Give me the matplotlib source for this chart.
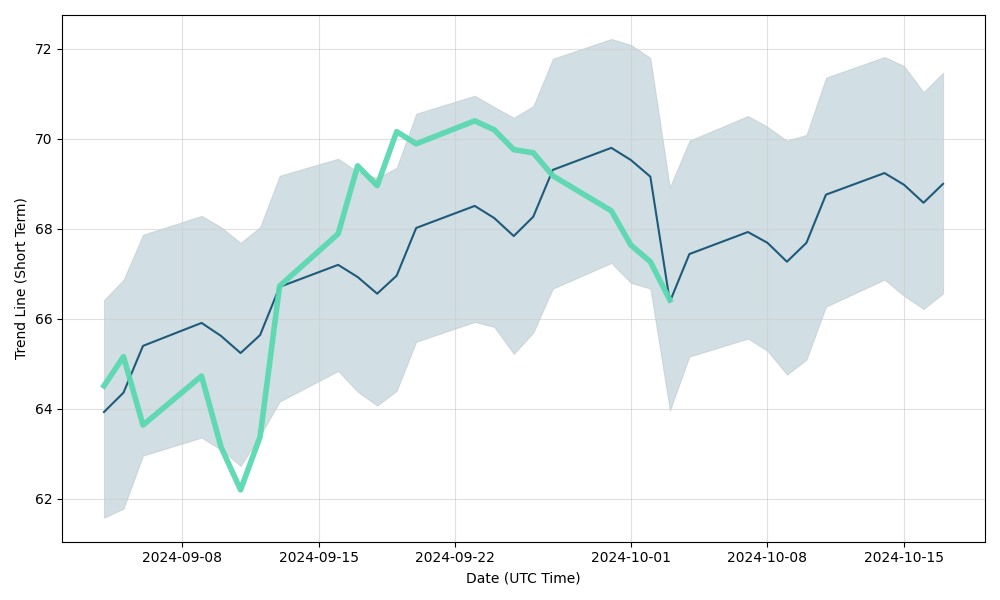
import numpy as np
import pandas as pd
import matplotlib
matplotlib.use("Agg")
import matplotlib.pyplot as plt

# trading days, Sep 4 - Oct 17 2024
dates = pd.to_datetime([
    "2024-09-04", "2024-09-05", "2024-09-06",
    "2024-09-09", "2024-09-10", "2024-09-11", "2024-09-12", "2024-09-13",
    "2024-09-16", "2024-09-17", "2024-09-18", "2024-09-19", "2024-09-20",
    "2024-09-23", "2024-09-24", "2024-09-25", "2024-09-26", "2024-09-27",
    "2024-09-30", "2024-10-01", "2024-10-02", "2024-10-03", "2024-10-04",
    "2024-10-07", "2024-10-08", "2024-10-09", "2024-10-10", "2024-10-11",
    "2024-10-14", "2024-10-15", "2024-10-16", "2024-10-17",
])

# short term trend line
trend = [63.93, 64.36, 65.40,
         65.91, 65.62, 65.24, 65.64, 66.71,
         67.20, 66.93, 66.56, 66.96, 68.02,
         68.51, 68.24, 67.84, 68.27, 69.31,
         69.80, 69.53, 69.16, 66.38, 67.44,
         67.93, 67.69, 67.27, 67.69, 68.76,
         69.24, 68.98, 68.58, 69.00]

upper = [66.42, 66.87, 67.87,
         68.29, 68.04, 67.69, 68.04, 69.18,
         69.56, 69.27, 69.13, 69.36, 70.56,
         70.96, 70.71, 70.47, 70.73, 71.78,
         72.22, 72.09, 71.80, 68.93, 69.96,
         70.51, 70.27, 69.96, 70.09, 71.36,
         71.82, 71.62, 71.04, 71.47]

lower = [61.58, 61.78, 62.96,
         63.36, 63.09, 62.73, 63.40, 64.16,
         64.84, 64.38, 64.07, 64.40, 65.49,
         65.93, 65.82, 65.22, 65.69, 66.67,
         67.24, 66.80, 66.67, 63.96, 65.16,
         65.56, 65.29, 64.76, 65.09, 66.27,
         66.87, 66.51, 66.22, 66.56]

# actual price (only up to Oct 3)
price = [64.51, 65.16, 63.64,
         64.73, 63.15, 62.20, 63.38, 66.73,
         67.89, 69.40, 68.96, 70.16, 69.89,
         70.40, 70.20, 69.76, 69.69, 69.18,
         68.40, 67.64, 67.27, 66.42]

fig, ax = plt.subplots(figsize=(10, 6), dpi=100)

ax.fill_between(dates, lower, upper, color="#1d5b79", alpha=0.2,
                edgecolor="#7f8c8d", linewidth=0.8)
ax.plot(dates, trend, color="#1d5b79", linewidth=1.5)
ax.plot(dates[:len(price)], price, color="#5ad8b0", linewidth=4, alpha=0.95)

ax.grid(True, color="#cccccc", alpha=0.6, linewidth=0.8)
ax.set_xlabel("Date (UTC Time)")
ax.set_ylabel("Trend Line (Short Term)")

ticks = pd.to_datetime(["2024-09-08", "2024-09-15", "2024-09-22",
                        "2024-10-01", "2024-10-08", "2024-10-15"])
ax.set_xticks(ticks)
ax.set_xticklabels([t.strftime("%Y-%m-%d") for t in ticks])

plt.tight_layout()
plt.savefig("out.png")
